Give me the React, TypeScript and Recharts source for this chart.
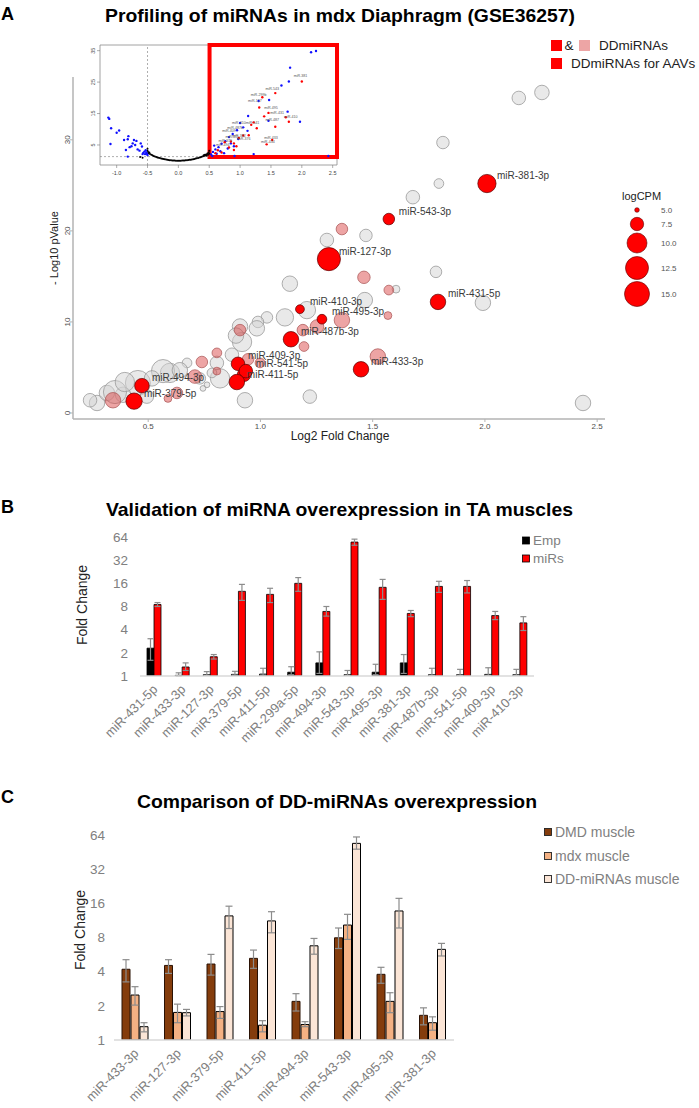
import React from 'react';
import { ScatterChart, Scatter, XAxis, YAxis, ZAxis, ReferenceArea, ReferenceLine, BarChart, Bar, ErrorBar } from 'recharts';

const FONT = '"Liberation Sans", Arial, Helvetica, sans-serif';

// ---------------- Panel A : bubble plot  [log2FC, -log10 p, logCPM] ----------------
const grayBubbles: number[][] = [
  [2.151, 34.6, 7.9], [2.254, 35.2, 8.4], [1.813, 29.7, 7.4], [1.795, 25.2, 6.3], [1.679, 23.7, 7.9],
  [1.296, 19.0, 7.9], [1.470, 19.5, 7.4], [1.131, 14.2, 8.9], [1.782, 15.5, 7.0], [1.207, 11.3, 10.0],
  [1.465, 12.4, 8.9], [1.604, 13.6, 5.7], [1.991, 12.1, 8.9], [1.109, 10.5, 10.0], [1.029, 10.5, 7.0],
  [0.989, 10.0, 7.0], [0.984, 9.3, 8.9], [0.909, 9.5, 8.9], [0.918, 7.8, 11.3], [0.891, 8.5, 8.9],
  [0.673, 5.5, 6.3], [0.806, 5.5, 7.9], [0.820, 3.8, 11.3], [0.784, 4.4, 6.3], [0.597, 4.4, 11.3],
  [0.566, 4.6, 14.2], [0.641, 4.7, 8.9], [0.454, 3.3, 15.8], [0.272, 1.1, 8.9], [0.316, 2.2, 8.9],
  [0.388, 2.0, 8.9], [0.494, 1.8, 7.9], [0.744, 2.7, 5.2], [0.762, 3.1, 5.2], [0.931, 1.4, 8.9],
  [1.220, 1.8, 7.9], [2.437, 1.1, 8.9], [0.352, 2.3, 14.2], [0.517, 3.8, 8.9], [0.396, 3.4, 11.3],
  [0.241, 1.4, 7.9], [0.873, 6.4, 7.9], [0.730, 3.8, 7.0],
];
const pinkBubbles: number[][] = [
  [1.363, 20.2, 7.0], [1.461, 14.9, 7.4], [1.572, 13.5, 6.3], [1.363, 10.2, 8.9], [1.252, 9.5, 7.9],
  [1.189, 9.1, 7.0], [1.194, 7.3, 6.3], [1.568, 10.7, 5.7], [1.523, 6.2, 8.9], [0.909, 9.1, 7.0],
  [0.806, 6.6, 6.3], [0.739, 5.6, 7.0], [0.806, 4.6, 5.7], [0.998, 5.5, 6.3], [0.708, 4.0, 7.9],
  [0.628, 2.2, 7.0], [0.588, 1.6, 5.7], [0.343, 1.4, 8.9], [0.945, 5.9, 7.0],
];
const aavNames = ['miR-381-3p', 'miR-543-3p', 'miR-127-3p', 'miR-410-3p', 'miR-495-3p', 'miR-487b-3p', 'miR-431-5p',
  'miR-433-3p', 'miR-409-3p', 'miR-541-5p', 'miR-411-5p', 'miR-494-3p', 'miR-379-5p'];
const aavBubbles: number[][] = [
  [2.009, 25.2, 10.6], [1.572, 21.3, 7.0], [1.305, 16.9, 14.2], [1.176, 11.4, 6.0], [1.274, 10.3, 6.3],
  [1.136, 8.1, 8.9], [1.791, 12.2, 8.9], [1.448, 4.8, 8.9], [0.900, 5.4, 7.9], [0.935, 4.6, 7.9],
  [0.895, 3.4, 8.9], [0.472, 3.0, 8.4], [0.437, 1.3, 9.4],
];
const extraRedBubbles: number[][] = [[0.927, 4.2, 7.9]];
const mainXTicks = [0.5, 1, 1.5, 2, 2.5];
const mainYTicks = [0, 10, 20, 30];
const cpmLegendValues = ['5.0', '7.5', '10.0', '12.5', '15.0'];

// ---------------- Panel A inset : volcano plot [log2FC, -log10 p] ----------------
const insetBlue: number[][] = [
  [-1.135, 13.7], [-1.12, 13.3], [-1.09, 10.3], [-1.0, 8.9], [-0.96, 9.6], [-1.1, 5.3], [-0.88, 6.6], [-0.81, 7.8],
  [-0.82, 6.8], [-0.74, 5.5], [-0.72, 6.6], [-0.68, 6.3], [-0.7, 5.0], [-0.61, 5.5], [-0.59, 4.5], [-0.66, 3.6],
  [-0.79, 4.3], [-0.85, 3.4], [-0.55, 2.9], [-0.54, 2.1], [-0.52, 2.6], [-0.58, 2.1], [-0.5, 1.8], [-0.82, 1.3],
  [-0.53, 3.3], [-0.57, 2.5], [-0.51, 2.2], [-0.76, 4.6], [-0.63, 3.2],
  [2.15, 34.5], [2.23, 34.9], [1.81, 29.6], [1.79, 25.2], [1.67, 23.9], [1.47, 19.3], [1.3, 19.0], [1.77, 15.6],
  [1.13, 14.2], [1.97, 12.4], [2.43, 1.5], [1.22, 2.1], [0.91, 1.5], [1.46, 12.7], [1.05, 10.6], [0.95, 9.7],
  [0.88, 8.5], [0.82, 7.5], [0.76, 6.2], [0.7, 5.4], [0.65, 4.3], [0.6, 3.6], [0.56, 2.8], [0.53, 2.0],
  [0.58, 4.8], [0.68, 3.0], [0.74, 2.4], [0.85, 5.5], [0.97, 6.9], [1.12, 9.5], [0.62, 2.2], [1.0, 12.0],
  [0.55, 1.5], [0.8, 3.9], [0.9, 4.6],
];
const insetRed: number[][] = [
  [2.0, 25.2], [1.57, 21.5], [1.36, 20.2], [1.31, 16.9], [1.39, 14.1], [1.46, 15.2], [1.74, 13.8], [1.79, 12.4],
  [1.57, 10.8], [1.43, 5.2], [1.52, 6.6], [1.18, 11.4], [1.27, 10.3], [1.14, 8.1], [0.9, 5.5], [0.94, 4.6],
  [0.9, 3.4], [0.75, 5.9], [0.82, 4.2], [0.64, 3.3], [0.7, 2.6], [0.98, 7.2], [1.05, 8.0], [0.6, 2.4],
  [0.85, 6.1], [1.22, 12.2],
];
const insetBlack: number[][] = [
  [-0.5, 3.8], [-0.5, 3.2], [-0.49, 2.8], [-0.48, 2.4], [-0.47, 2.6], [-0.46, 2.1], [-0.44, 1.9], [-0.42, 1.7],
  [-0.4, 1.5], [-0.38, 1.35], [-0.36, 1.2], [-0.34, 1.05], [-0.32, 0.95], [-0.3, 0.85], [-0.28, 0.72], [-0.26, 0.62],
  [-0.24, 0.52], [-0.22, 0.45], [-0.2, 0.38], [-0.18, 0.3], [-0.16, 0.24], [-0.14, 0.18], [-0.12, 0.13], [-0.1, 0.09],
  [-0.08, 0.06], [-0.06, 0.03], [-0.04, 0.02], [-0.02, 0.01], [0.0, 0.0], [0.02, 0.01], [0.04, 0.02], [0.06, 0.04],
  [0.08, 0.06], [0.1, 0.09], [0.12, 0.12], [0.14, 0.16], [0.16, 0.21], [0.18, 0.27], [0.2, 0.33], [0.22, 0.4],
  [0.24, 0.48], [0.26, 0.57], [0.28, 0.66], [0.3, 0.76], [0.32, 0.87], [0.34, 0.99], [0.36, 1.1], [0.38, 1.25],
  [0.4, 1.4], [0.41, 1.7], [0.42, 1.55], [0.43, 1.9], [0.44, 1.75], [0.45, 2.0], [0.46, 1.6], [0.47, 2.3],
  [0.48, 1.9], [0.49, 2.6], [0.5, 3.2], [0.5, 2.2], [-0.58, 0.9], [-0.62, 1.2],
];
const insetLabels: [number, number, string][] = [
  [1.98, 26.6, 'miR-381'], [1.52, 22.6, 'miR-543'], [1.3, 20.6, 'miR-299b'], [1.24, 18.7, 'miR-127'],
  [1.5, 16.4, 'miR-495'], [1.6, 15.0, 'miR-431'], [1.82, 13.6, 'miR-410'], [1.52, 12.6, 'miR-487'],
  [1.5, 7.0, 'miR-433'], [1.45, 5.6, 'miR-434'], [0.98, 11.7, 'miR-410'], [0.92, 10.0, 'miR-487b'],
  [1.2, 11.6, 'miR-541'], [0.82, 9.0, 'miR-409'], [0.87, 7.2, 'miR-411'], [0.76, 6.0, 'miR-379'],
  [0.98, 7.6, 'miR-382'], [1.06, 6.6, 'miR-376'], [0.72, 4.6, 'miR-494'],
];
const insetXTicks = [-1, -0.5, 0, 0.5, 1, 1.5, 2, 2.5];
const insetYTicks = [0, 5, 10, 15, 20, 25, 30, 35];

// ---------------- Panel B ----------------
const bCats = ['miR-431-5p', 'miR-433-3p', 'miR-127-3p', 'miR-379-5p', 'miR-411-5p', 'miR-299a-5p', 'miR-494-3p',
  'miR-543-3p', 'miR-495-3p', 'miR-381-3p', 'miR-487b-3p', 'miR-541-5p', 'miR-409-3p', 'miR-410-3p'];
const bEmp = [2.3, 1.02, 1.04, 1.05, 1.06, 1.12, 1.48, 1.04, 1.12, 1.48, 1.04, 1.04, 1.05, 1.04];
const bEmpLo = [0.7, 0.02, 0.02, 0.02, 0.03, 0.08, 0.4, 0.02, 0.08, 0.4, 0.02, 0.02, 0.03, 0.02];
const bEmpHi = [0.75, 0.08, 0.1, 0.1, 0.2, 0.2, 0.58, 0.14, 0.3, 0.42, 0.22, 0.18, 0.23, 0.18];
const bMirs = [8.5, 1.31, 1.78, 12.6, 11.5, 16, 6.9, 55, 14.2, 6.5, 14.6, 14.6, 6.1, 4.9];
const bMirsLo = [0.5, 0.13, 0.12, 3.0, 2.5, 3.4, 0.9, 5, 4.3, 0.6, 2.4, 2.6, 0.7, 1.0];
const bMirsHi = [0.5, 0.17, 0.12, 2.9, 2.3, 3, 1.1, 5, 3.8, 0.6, 2.4, 2.8, 0.8, 1.0];
const foldTicks = [1, 2, 4, 8, 16, 32, 64];

// ---------------- Panel C ----------------
const cCats = ['miR-433-3p', 'miR-127-3p', 'miR-379-5p', 'miR-411-5p', 'miR-494-3p', 'miR-543-3p', 'miR-495-3p', 'miR-381-3p'];
const cDMD = [4.2, 4.54, 4.67, 5.24, 2.19, 7.95, 3.79, 1.65];
const cDMDLo = [0.95, 0.68, 0.94, 0.96, 0.39, 1.55, 0.63, 0.29];
const cDMDHi = [0.9, 0.56, 1.01, 0.96, 0.37, 1.75, 0.58, 0.27];
const cMdx = [2.49, 1.75, 1.78, 1.35, 1.37, 10.3, 2.19, 1.42];
const cMdxLo = [0.46, 0.33, 0.23, 0.17, 0.06, 2.6, 0.45, 0.2];
const cMdxHi = [0.46, 0.32, 0.19, 0.13, 0.08, 2.5, 0.42, 0.18];
const cDD = [1.31, 1.74, 12.4, 11.2, 6.76, 54, 13.7, 6.29];
const cDDLo = [0.13, 0.11, 2.8, 2.4, 1.06, 6, 4.0, 0.79];
const cDDHi = [0.11, 0.12, 2.7, 2.3, 1.09, 7.5, 4.0, 0.81];

// ---------------- derived tables ----------------
const toBubbles = (rows: number[][]) => rows.map(([x, y, z]) => ({ x, y, z }));
const grayData = toBubbles(grayBubbles);
const pinkData = toBubbles(pinkBubbles);
const aavData = aavBubbles.map(([x, y, z], i) => ({ x, y, z, name: aavNames[i] }));
const extraRedData = toBubbles(extraRedBubbles);
const toPts = (rows: number[][]) => rows.map(([x, y]) => ({ x, y }));
const bData = bCats.map((name, i) => ({
  name, emp: bEmp[i], empErr: [bEmpLo[i], bEmpHi[i]], mirs: bMirs[i], mirsErr: [bMirsLo[i], bMirsHi[i]],
}));
const cData = cCats.map((name, i) => ({
  name,
  dmd: cDMD[i], dmdErr: [cDMDLo[i], cDMDHi[i]],
  mdx: cMdx[i], mdxErr: [cMdxLo[i], cMdxHi[i]],
  dd: cDD[i], ddErr: [cDDLo[i], cDDHi[i]],
}));

const rOf = (p: any) => (p.size ? Math.sqrt(p.size / Math.PI) : (p.width || 8) / 2);

const bubble = (fill: string, fillOpacity: number, stroke: string, sw: number) => (p: any) => (
  <circle cx={p.cx} cy={p.cy} r={rOf(p)} fill={fill} fillOpacity={fillOpacity} stroke={stroke} strokeWidth={sw} />
);
const dot = (fill: string, r: number) => (p: any) => <circle cx={p.cx} cy={p.cy} r={r} fill={fill} />;

const MainYTick = (p: any) => (
  <text x={p.x + 0.5} y={p.y} transform={`rotate(-90 ${p.x + 0.5} ${p.y})`} textAnchor="middle" fontSize={8} fill="#4d4d4d" fontFamily={FONT}>
    {p.payload.value}
  </text>
);
const InsetYTick = (p: any) => (
  <text x={p.x - 1} y={p.y} transform={`rotate(-90 ${p.x - 1} ${p.y})`} textAnchor="middle" fontSize={5.5} fill="#555" fontFamily={FONT}>
    {p.payload.value}
  </text>
);
const AngTick = (p: any) => (
  <g transform={`translate(${p.x + 1},${p.y + 3})`}>
    <text x={0} y={0} dy="0.35em" transform="rotate(-45)" textAnchor="end" fontSize={13} fill="#808080" fontFamily={FONT}>
      {p.payload.value}
    </text>
  </g>
);

const grayBar = '#8c8c8c';

export default function App() {
  return (
    <div style={{ position: 'absolute', left: 0, top: 0, width: 699, height: 1108, background: '#fff', overflow: 'hidden', fontFamily: FONT }}>
      {/* Panel A main */}
      <div style={{ position: 'absolute', left: 0, top: 0 }}>
        <ScatterChart width={699} height={450} margin={{ top: 77, right: 94, bottom: 0, left: 0 }}>
          <XAxis type="number" dataKey="x" domain={[0.165, 2.535]} ticks={mainXTicks} allowDataOverflow height={31}
            tickFormatter={(v: number) => v.toFixed(1)} tick={{ fontSize: 8, fill: '#4d4d4d', fontFamily: FONT }}
            tickSize={3} tickMargin={1} axisLine={{ stroke: '#b3b3b3', strokeWidth: 1.5 }} tickLine={{ stroke: '#b3b3b3' }} />
          <YAxis type="number" dataKey="y" domain={[-0.66, 36.9]} ticks={mainYTicks} allowDataOverflow width={73}
            tick={<MainYTick />} tickSize={3} tickMargin={0} axisLine={{ stroke: '#b3b3b3', strokeWidth: 1.5 }} tickLine={{ stroke: '#b3b3b3' }} />
          <ZAxis type="number" dataKey="z" domain={[5, 15]} range={[17, 491]} />
          <Scatter data={grayData} isAnimationActive={false} shape={bubble('#d4d4d4', 0.5, '#9a9a9a', 0.8)} />
          <Scatter data={pinkData} isAnimationActive={false} shape={bubble('#dc4a4a', 0.5, '#b06060', 0.8)} />
          <Scatter data={extraRedData} isAnimationActive={false} shape={bubble('#ff0000', 1, '#5a0000', 0.7)} />
          <Scatter data={aavData} isAnimationActive={false} shape={bubble('#ff0000', 1, '#5a0000', 0.7)} />
          <Scatter data={aavData} isAnimationActive={false} shape={(p: any) => (
            <text x={p.cx + 10} y={p.cy - 8} dy="0.35em" fontSize={10} fill="#3a3a3a" fontFamily={FONT}>{p.payload.name}</text>
          )} />
        </ScatterChart>
      </div>

      {/* Panel A inset */}
      <div style={{ position: 'absolute', left: 60, top: 35 }}>
        <ScatterChart width={290} height={155} margin={{ top: 10, right: 13, bottom: 0, left: 0 }}>
          <XAxis type="number" dataKey="x" domain={[-1.27, 2.57]} ticks={insetXTicks} allowDataOverflow height={25}
            tickFormatter={(v: number) => v.toFixed(1)} tick={{ fontSize: 5.5, fill: '#444', fontFamily: FONT }}
            tickSize={3} tickMargin={3} axisLine={false} tickLine={{ stroke: '#777', strokeWidth: 0.6 }} />
          <YAxis type="number" dataKey="y" domain={[-1.37, 36.8]} ticks={insetYTicks} allowDataOverflow width={40}
            tick={<InsetYTick />} tickSize={3} tickMargin={1} axisLine={false} tickLine={{ stroke: '#777', strokeWidth: 0.6 }} />
          <ReferenceArea x1={-1.27} x2={2.57} y1={-1.37} y2={36.8} fill="none" stroke="#8a8a8a" strokeWidth={0.8} />
          <ReferenceLine x={-0.5} stroke="#777" strokeDasharray="2 2" strokeWidth={0.6} />
          <ReferenceLine segment={[{ x: -1.27, y: 1.3 }, { x: 0.5, y: 1.3 }]} stroke="#777" strokeDasharray="2 2" strokeWidth={0.6} />
          <Scatter data={toPts(insetBlack)} isAnimationActive={false} shape={dot('#000', 1.0)} />
          <Scatter data={toPts(insetBlue)} isAnimationActive={false} shape={dot('#1010ff', 1.2)} />
          <Scatter data={toPts(insetRed)} isAnimationActive={false} shape={dot('#ff0000', 1.2)} />
          <Scatter data={insetLabels.map(([x, y, name]) => ({ x, y, name }))} isAnimationActive={false} shape={(p: any) => (
            <text x={p.cx} y={p.cy} textAnchor="middle" fontSize={3.6} fill="#555" fontFamily={FONT}>{p.payload.name}</text>
          )} />
          <ReferenceArea x1={0.505} x2={2.57} y1={1.15} y2={36.8} fill="none" stroke="#ff0000" strokeWidth={4} fillOpacity={0} />
        </ScatterChart>
      </div>

      {/* Panel B */}
      <div style={{ position: 'absolute', left: 0, top: 480 }}>
        <BarChart width={699} height={300} data={bData} margin={{ top: 57, right: 165, left: 0, bottom: 0 }} barGap={0} barCategoryGap="25%">
          <XAxis dataKey="name" height={104} interval={0} tick={<AngTick />} tickLine={false} axisLine={{ stroke: '#d9d9d9', strokeWidth: 1.5 }} />
          <YAxis type="number" scale="log" domain={[1, 64]} ticks={foldTicks} allowDataOverflow width={140}
            axisLine={false} tickLine={false} tickSize={6} tickMargin={6} tick={{ fontSize: 13.5, fill: '#808080', fontFamily: FONT }} />
          <Bar dataKey="emp" barSize={7} fill="#000" stroke="#000" strokeWidth={0.8} isAnimationActive={false}>
            <ErrorBar dataKey="empErr" width={3} stroke={grayBar} strokeWidth={1.2} />
          </Bar>
          <Bar dataKey="mirs" barSize={7} fill="#ff0000" stroke="#000" strokeWidth={0.8} isAnimationActive={false}>
            <ErrorBar dataKey="mirsErr" width={3} stroke={grayBar} strokeWidth={1.2} />
          </Bar>
        </BarChart>
      </div>

      {/* Panel C */}
      <div style={{ position: 'absolute', left: 0, top: 780 }}>
        <BarChart width={699} height={328} data={cData} margin={{ top: 55, right: 245, left: 0, bottom: 0 }} barGap={1} barCategoryGap="20%">
          <XAxis dataKey="name" height={68} interval={0} tick={<AngTick />} tickLine={false} axisLine={{ stroke: '#d9d9d9', strokeWidth: 1.5 }} />
          <YAxis type="number" scale="log" domain={[1, 64]} ticks={foldTicks} allowDataOverflow width={114}
            axisLine={false} tickLine={false} tickSize={6} tickMargin={3} tick={{ fontSize: 13.5, fill: '#808080', fontFamily: FONT }} />
          <Bar dataKey="dmd" barSize={8} fill="#843c0c" stroke="#2a1205" strokeWidth={1} isAnimationActive={false}>
            <ErrorBar dataKey="dmdErr" width={3.5} stroke={grayBar} strokeWidth={1.2} />
          </Bar>
          <Bar dataKey="mdx" barSize={8} fill="#f4b183" stroke="#000" strokeWidth={1} isAnimationActive={false}>
            <ErrorBar dataKey="mdxErr" width={3.5} stroke={grayBar} strokeWidth={1.2} />
          </Bar>
          <Bar dataKey="dd" barSize={8} fill="#fbe5d6" stroke="#000" strokeWidth={1} isAnimationActive={false}>
            <ErrorBar dataKey="ddErr" width={3.5} stroke={grayBar} strokeWidth={1.2} />
          </Bar>
        </BarChart>
      </div>

      {/* titles, axis titles, legends */}
      <svg width={699} height={1108} style={{ position: 'absolute', left: 0, top: 0, pointerEvents: 'none' }} fontFamily={FONT}>
        <text x={1} y={20} fontSize={18} fontWeight="bold" fill="#000">A</text>
        <text x={340} y={22} fontSize={19} fontWeight="bold" fill="#000" textAnchor="middle" textLength={470} lengthAdjust="spacingAndGlyphs">
          Profiling of miRNAs in mdx Diaphragm (GSE36257)
        </text>
        <rect x={551} y={40} width={11} height={11} fill="#ff0000" />
        <text x={569} y={45} dy="0.35em" fontSize={13.5} fill="#222" textAnchor="middle">&amp;</text>
        <rect x={579} y={40} width={11} height={11} fill="#eda5a5" />
        <text x={599} y={45} dy="0.35em" fontSize={13.5} fill="#222">DDmiRNAs</text>
        <rect x={551} y={58} width={11} height={11} fill="#ff0000" />
        <text x={571} y={63} dy="0.35em" fontSize={13.5} fill="#222">DDmiRNAs for AAVs</text>

        <text x={622} y={196} dy="0.35em" fontSize={11} fill="#222">logCPM</text>
        {[2.3, 6.7, 10, 11.5, 12.5].map((r, i) => (
          <circle key={i} cx={637} cy={[210, 224, 243, 268, 294][i]} r={r} fill="#ff0000" stroke="#5a0000" strokeWidth={0.6} />
        ))}
        {cpmLegendValues.map((t, i) => (
          <text key={t} x={661} y={[210, 224, 243, 268, 294][i]} dy="0.35em" fontSize={8} fill="#555">{t}</text>
        ))}
        <text x={340} y={436} dy="0.35em" fontSize={12} fill="#222" textAnchor="middle">Log2 Fold Change</text>
        <text x={54} y={248} dy="0.35em" fontSize={11} fill="#222" textAnchor="middle" transform="rotate(-90 54 248)">- Log10 pValue</text>

        <text x={1} y={513} fontSize={18} fontWeight="bold" fill="#000">B</text>
        <text x={339.5} y={516} fontSize={19} fontWeight="bold" fill="#000" textAnchor="middle" textLength={467} lengthAdjust="spacingAndGlyphs">
          Validation of miRNA overexpression in TA muscles
        </text>
        <text x={82} y={605} dy="0.35em" fontSize={14} fill="#222" textAnchor="middle" transform="rotate(-90 82 605)">Fold Change</text>
        <rect x={522.5} y={537} width={7} height={7} fill="#000" stroke="#000" strokeWidth={0.8} />
        <text x={533} y={540.5} dy="0.35em" fontSize={13.5} fill="#808080">Emp</text>
        <rect x={522.5} y={555} width={7} height={7} fill="#ff0000" stroke="#000" strokeWidth={0.8} />
        <text x={533} y={558.5} dy="0.35em" fontSize={13.5} fill="#808080">miRs</text>

        <text x={1} y={803} fontSize={18} fontWeight="bold" fill="#000">C</text>
        <text x={337} y={808} fontSize={19} fontWeight="bold" fill="#000" textAnchor="middle" textLength={400} lengthAdjust="spacingAndGlyphs">
          Comparison of DD-miRNAs overexpression
        </text>
        <text x={80.5} y={930} dy="0.35em" fontSize={14} fill="#222" textAnchor="middle" transform="rotate(-90 80.5 930)">Fold Change</text>
        {[['DMD muscle', '#843c0c', 832], ['mdx muscle', '#f4b183', 856], ['DD-miRNAs muscle', '#fbe5d6', 879]].map(([t, c, y]) => (
          <g key={t as string}>
            <rect x={544.5} y={(y as number) - 3.5} width={7} height={7} fill={c as string} stroke="#222" strokeWidth={0.9} />
            <text x={555} y={y as number} dy="0.35em" fontSize={14} fill="#808080">{t}</text>
          </g>
        ))}
      </svg>
    </div>
  );
}
